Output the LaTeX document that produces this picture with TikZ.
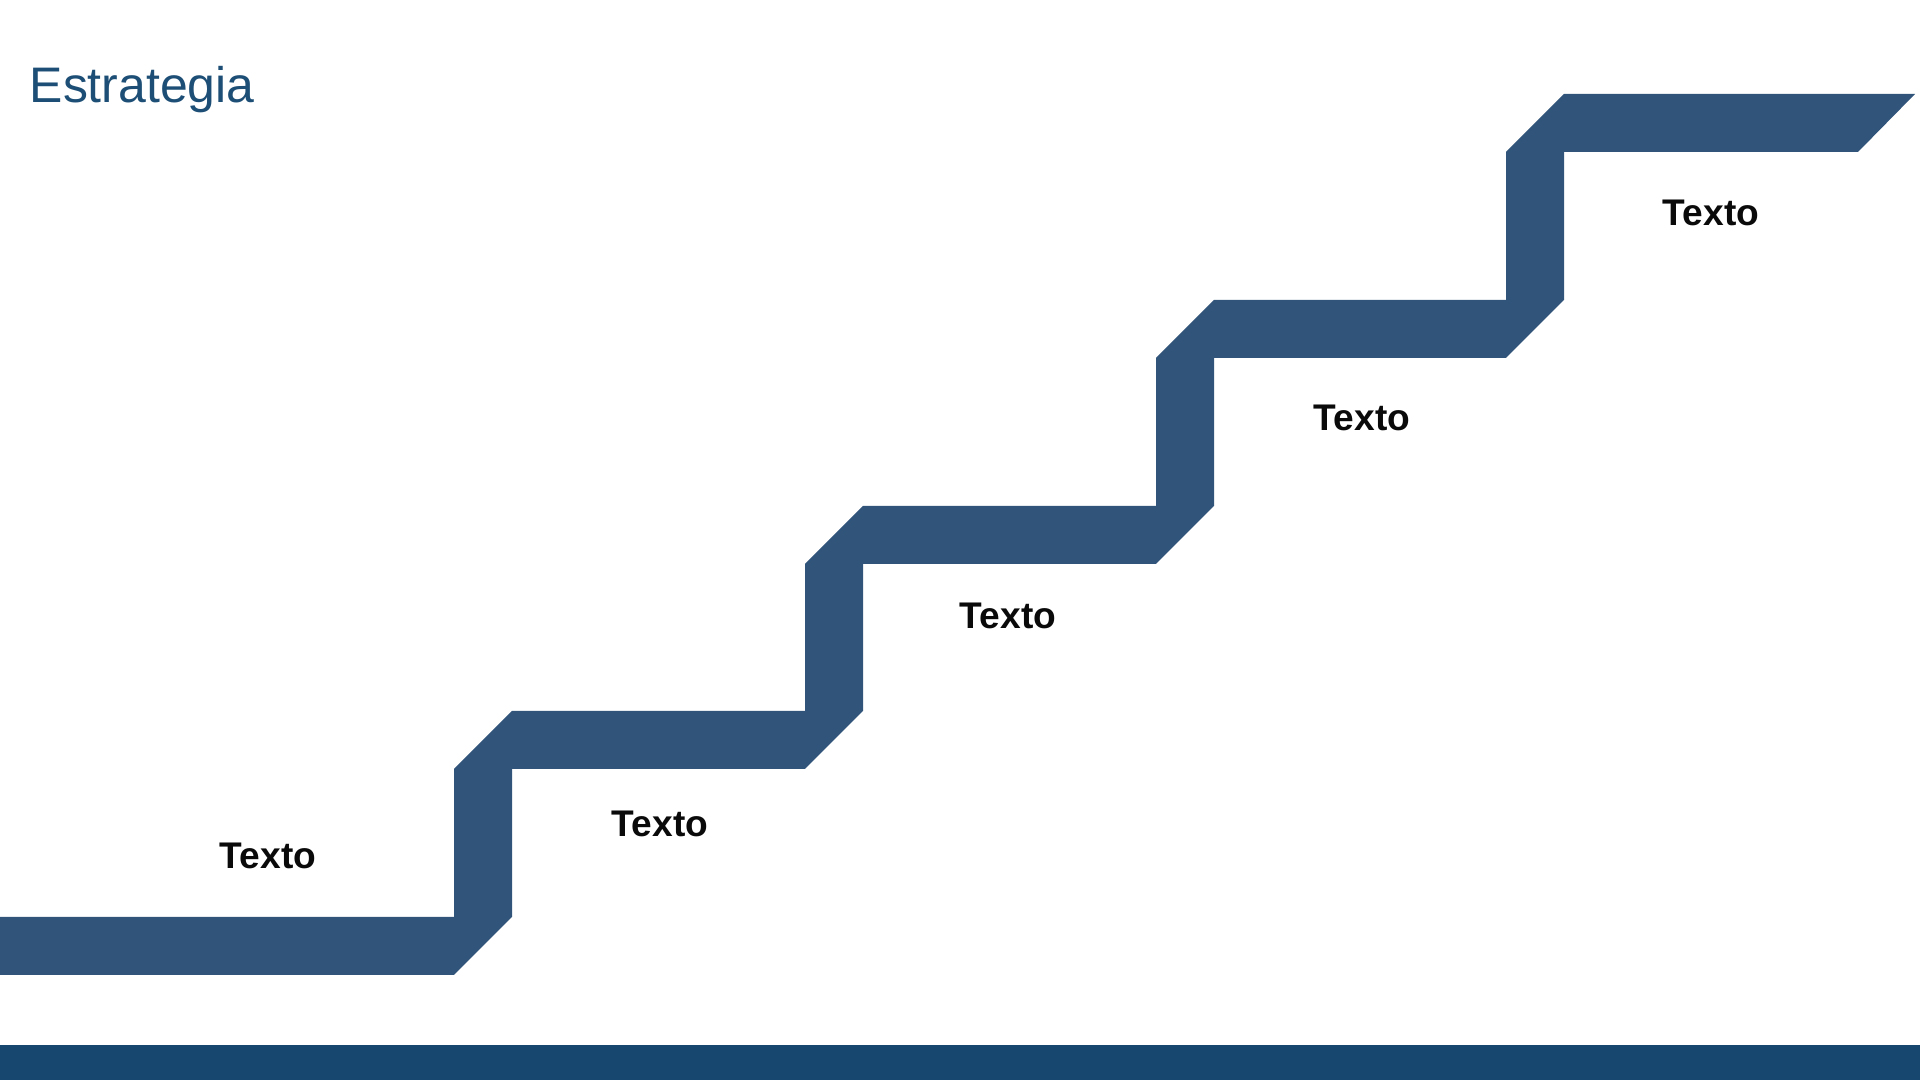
\documentclass[tikz,border=0pt]{standalone}
\usepackage{fontspec}
\setmainfont{Liberation Sans}
\definecolor{estrblue}{HTML}{31547A}
\definecolor{estrband}{HTML}{17476F}
\definecolor{estrtitle}{HTML}{1D4E75}
\definecolor{estrtext}{HTML}{0A0A0A}

\begin{document}
\begin{tikzpicture}[
        x=0.01cm, y=-0.01cm,
        every node/.style={inner sep=0pt},
        titulo/.style={font=\fontsize{14.2}{16}\selectfont, text=estrtitle, anchor=base west},
        paso/.style={font=\fontsize{10.55}{12}\selectfont\bfseries, text=estrtext},
        escalera/.style={fill=estrblue, draw=none},
        banda/.style={fill=estrband, draw=none},
      ]
      \useasboundingbox (0,0) rectangle (1920,1080);

      \node[titulo] (title) at (29,103) {Estrategia};

      % stair band
      \path[escalera] (0,917) -- (454,917) -- (454,769) -- (512,711)
        -- (805,711) -- (805,564) -- (863,506)
        -- (1156,506) -- (1156,358) -- (1214,300)
        -- (1506,300) -- (1506,152) -- (1564,94)
        -- (1915,94) -- (1858,152)
        -- (1564,152) -- (1564,300) -- (1506,358)
        -- (1214,358) -- (1214,506) -- (1156,564)
        -- (863,564) -- (863,711) -- (805,769)
        -- (512,769) -- (512,917) -- (454,975)
        -- (0,975) -- cycle;

      \node[paso] (p1) at (268,856)  {Texto};
      \node[paso] (p2) at (660,824)  {Texto};
      \node[paso] (p3) at (1008,616) {Texto};
      \node[paso] (p4) at (1362,418) {Texto};
      \node[paso] (p5) at (1711,213) {Texto};

      \path[banda] (0,1045) rectangle (1920,1080);
    \end{tikzpicture}
\end{document}
